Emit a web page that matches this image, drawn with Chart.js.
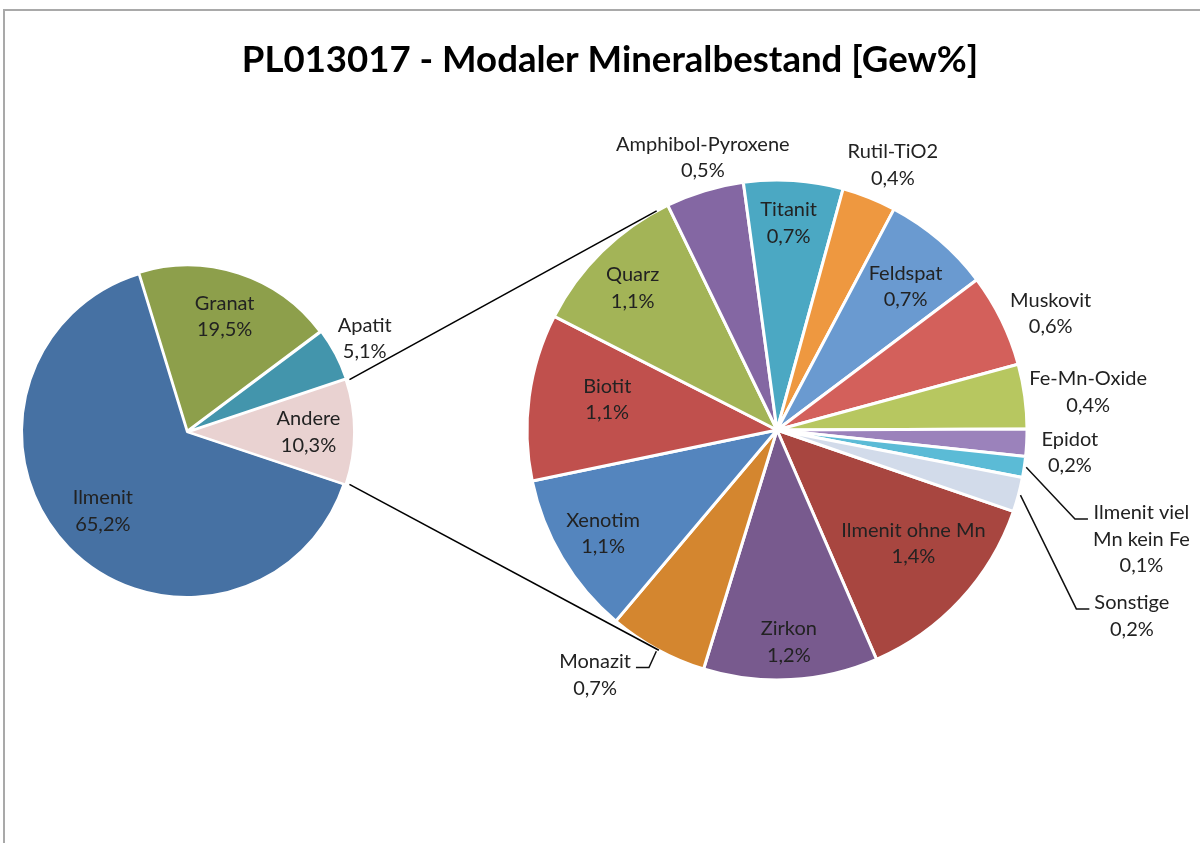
<!DOCTYPE html>
<html>
<head>
<meta charset="utf-8">
<title>PL013017 - Modaler Mineralbestand</title>
<script src="https://cdn.jsdelivr.net/npm/chart.js@4.4.1/dist/chart.umd.min.js"></script>
<style>
  html, body { margin: 0; padding: 0; background: #fff; }
  #wrap { position: relative; width: 1200px; height: 843px; overflow: hidden; }
  #wrap canvas { position: absolute; left: 0; top: 0; }
  #frame { position: absolute; left: 3px; top: 9px; width: 1300px; height: 900px;
           border-top: 2px solid #a9a9a9; border-left: 2px solid #a9a9a9; }
</style>
</head>
<body>
<div id="wrap">
  <div id="frame"></div>
  <canvas id="mainPie" width="1200" height="843"></canvas>
  <canvas id="subPie" width="1200" height="843"></canvas>
</div>
<script>
/* DATA */
const TITLE = 'PL013017 - Modaler Mineralbestand [Gew%]';

const MAIN_LABELS = ['Ilmenit', 'Granat', 'Apatit', 'Andere'];
const MAIN_VALUES = [65.2, 19.5, 5.1, 10.3];

// the "Andere" slice split up in the second pie
const SUB_LABELS = ['Ilmenit ohne Mn', 'Zirkon', 'Monazit', 'Xenotim', 'Biotit', 'Quarz',
  'Amphibol-Pyroxene', 'Titanit', 'Rutil-TiO2', 'Feldspat', 'Muskovit', 'Fe-Mn-Oxide',
  'Epidot', 'Ilmenit viel Mn kein Fe', 'Sonstige'];
const SUB_VALUES = [1.36, 1.16, 0.66, 1.09, 1.11, 1.06, 0.52, 0.66, 0.36, 0.72, 0.62, 0.43, 0.18, 0.14, 0.23];

/* STYLE */
const MAIN_COLORS = ['#4671a3', '#8d9f4b', '#4395ac', '#e9d2d1'];
const MAIN_OFFSET = [0, 6, 6, 6];
const SUB_COLORS = ['#a84640', '#785a8e', '#d4862f', '#5485be', '#c0504d', '#a3b457',
  '#8467a3', '#4ba8c3', '#ee9840', '#6a9ad0', '#d3605b', '#b7c760',
  '#9b82bb', '#5bbbd6', '#d2dbea'];

const FONT = 'Lato, "Open Sans", sans-serif';
const LABEL_FONT = '20px ' + FONT;
const TEXT_COLOR = '#222';
const LINE_H = 26.5;

const MAIN_CENTER = [187, 432], MAIN_R = 165;
const SUB_CENTER = [777, 430], SUB_R = 250;

// label placement: f = distance as part of radius, da = angle shift (deg)
const MAIN_PLACE = [{ f: .70, da: 1 }, { f: .70 }, { f: 1.18 }, { f: .70 }];
const SUB_PLACE = [
  { f: .71, da: -3 }, { f: .85 }, { f: 1.22, da: 8, leader: 'right' }, { f: .81 },
  { f: .69, da: 2.6 }, { f: .81, da: -1 }, { f: 1.13, da: 1.6 }, { f: .83, da: -.6 },
  { f: 1.156, da: 2 }, { f: .77, da: 1.4 }, { f: 1.19, da: 3 }, { f: 1.254, da: .8 },
  { f: 1.175, da: 1.5 }, { f: 1.522, da: 8.2, leader: 'left', wrap: 110 },
  { f: 1.603, da: 12.7, leader: 'left' }
];

const sum = a => a.reduce((s, v) => s + v, 0);
const fmt = v => v.toFixed(1).replace('.', ',') + '%';

function wrapLines(ctx, text, maxW) {
  if (!maxW) return [text];
  const lines = [];
  let cur = '';
  text.split(' ').forEach(w => {
    const t = cur ? cur + ' ' + w : w;
    if (cur && ctx.measureText(t).width > maxW) { lines.push(cur); cur = w; } else cur = t;
  });
  lines.push(cur);
  return lines;
}

function drawSliceLabels(chart, labels, values, place) {
  const ctx = chart.ctx;
  const arcs = chart.getDatasetMeta(0).data;
  const offsets = chart.data.datasets[0].offset || [];
  ctx.save();
  ctx.font = LABEL_FONT;
  ctx.fillStyle = TEXT_COLOR;
  ctx.strokeStyle = '#111';
  ctx.lineWidth = 1.5;
  ctx.textAlign = 'center';
  ctx.textBaseline = 'middle';
  arcs.forEach((arc, i) => {
    const p = place[i];
    const mid = (arc.startAngle + arc.endAngle) / 2;
    const off = offsets[i] || 0;
    const cx = arc.x + off * Math.cos(mid), cy = arc.y + off * Math.sin(mid);
    const a = mid + (p.da || 0) * Math.PI / 180;
    const lx = cx + p.f * arc.outerRadius * Math.cos(a);
    const ly = cy + p.f * arc.outerRadius * Math.sin(a);
    const lines = wrapLines(ctx, labels[i], p.wrap).concat(fmt(values[i]));
    const top = ly - (lines.length - 1) * LINE_H / 2;
    lines.forEach((t, k) => ctx.fillText(t, lx, top + k * LINE_H));
    if (p.leader) {
      const w = Math.max(...lines.map(t => ctx.measureText(t).width));
      const sx = cx + (arc.outerRadius + 2) * Math.cos(mid);
      const sy = cy + (arc.outerRadius + 2) * Math.sin(mid);
      const hy = top + 6;
      const dir = p.leader === 'left' ? -1 : 1;
      const edge = lx + dir * w / 2;
      ctx.beginPath();
      ctx.moveTo(sx, sy);
      ctx.lineTo(edge + dir * 18, hy);
      ctx.lineTo(edge + dir * 5, hy);
      ctx.stroke();
    }
  });
  ctx.restore();
}

// padding that puts the pie centre at a given canvas point
function padFor(c, W, H) {
  const left = Math.max(0, 2 * c[0] - W), right = Math.max(0, W - 2 * c[0]);
  const top = Math.max(0, 2 * c[1] - H), bottom = Math.max(0, H - 2 * c[1]);
  return { left, right, top, bottom };
}

/* MAIN PIE */
const andereAngle = MAIN_VALUES[3] / sum(MAIN_VALUES) * 360;

const mainChart = new Chart(document.getElementById('mainPie'), {
  type: 'pie',
  data: {
    labels: MAIN_LABELS,
    datasets: [{
      data: MAIN_VALUES, backgroundColor: MAIN_COLORS, offset: MAIN_OFFSET,
      borderColor: '#fff', borderWidth: 2, hoverOffset: 0
    }]
  },
  options: {
    responsive: false, animation: false,
    rotation: 90 + andereAngle / 2,   // "Andere" centred on 3 o'clock
    radius: MAIN_R,
    layout: { padding: padFor(MAIN_CENTER, 1200, 843) },
    plugins: { legend: { display: false }, tooltip: { enabled: false } }
  },
  plugins: [{
    id: 'mainLabels',
    afterDraw: c => drawSliceLabels(c, MAIN_LABELS, MAIN_VALUES, MAIN_PLACE)
  }]
});

/* SECOND PIE + title + connectors */
const connectors = {
  id: 'connectors',
  afterDraw(chart) {
    const ctx = chart.ctx;
    const andere = mainChart.getDatasetMeta(0).data[3];
    const off = MAIN_OFFSET[3];
    const mid = (andere.startAngle + andere.endAngle) / 2;
    const ax = andere.x + off * Math.cos(mid), ay = andere.y + off * Math.sin(mid);
    const sub = chart.getDatasetMeta(0).data[0];
    const r = sub.outerRadius;
    const ends = [[andere.startAngle, 1], [andere.endAngle, -1]];
    ctx.save();
    ctx.strokeStyle = '#000';
    ctx.lineWidth = 1.6;
    ends.forEach(([ang, s]) => {
      const px = ax + andere.outerRadius * Math.cos(ang);
      const py = ay + andere.outerRadius * Math.sin(ang);
      const d = Math.hypot(px - sub.x, py - sub.y);
      const t = Math.atan2(py - sub.y, px - sub.x) + s * Math.acos(r / d);
      ctx.beginPath();
      ctx.moveTo(px, py);
      ctx.lineTo(sub.x + r * Math.cos(t), sub.y + r * Math.sin(t));
      ctx.stroke();
    });
    // title
    ctx.fillStyle = '#000';
    ctx.font = 'bold 36.6px ' + FONT;
    ctx.textAlign = 'center';
    ctx.textBaseline = 'alphabetic';
    ctx.fillText(TITLE, 610, 72);
    ctx.restore();
    drawSliceLabels(chart, SUB_LABELS, SUB_VALUES, SUB_PLACE);
  }
};

new Chart(document.getElementById('subPie'), {
  type: 'pie',
  data: {
    labels: SUB_LABELS,
    datasets: [{
      data: SUB_VALUES, backgroundColor: SUB_COLORS,
      borderColor: '#fff', borderWidth: 3, hoverOffset: 0
    }]
  },
  options: {
    responsive: false, animation: false,
    rotation: 109,
    radius: SUB_R,
    layout: { padding: padFor(SUB_CENTER, 1200, 843) },
    plugins: { legend: { display: false }, tooltip: { enabled: false } }
  },
  plugins: [connectors]
});
</script>
</body>
</html>
